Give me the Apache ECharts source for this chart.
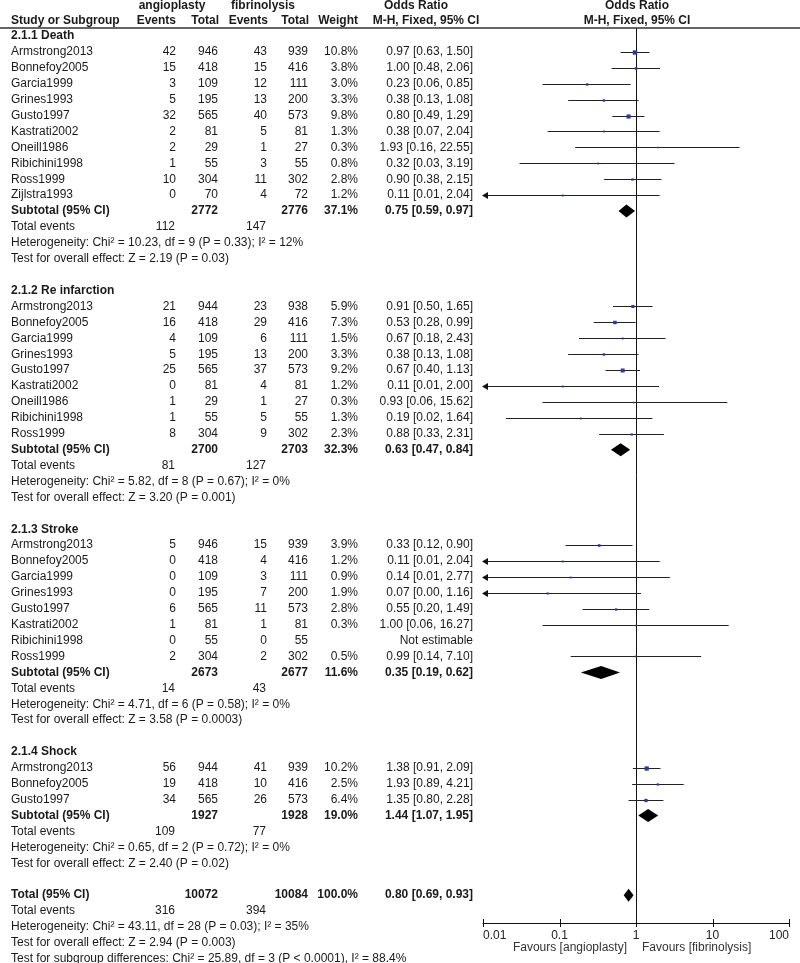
<!DOCTYPE html>
<html><head><meta charset="utf-8">
<script src="https://cdn.jsdelivr.net/npm/echarts@6/dist/echarts.min.js"></script>
<style>html,body{margin:0;padding:0;background:#fff}#c{width:800px;height:963px}</style>
</head><body><div id="c"></div>
<script>
// ---------------- DATA ----------------
const groupTitles = ['2.1.1 Death', '2.1.2 Re infarction', '2.1.3 Stroke', '2.1.4 Shock'];
// [study, angioEvents, angioTotal, fibrEvents, fibrTotal, weight%, OR, lower, upper]
const deathStudies = [
  ['Armstrong2013', 42, 946, 43, 939, 10.8, 0.97, 0.63, 1.50],
  ['Bonnefoy2005', 15, 418, 15, 416, 3.8, 1.00, 0.48, 2.06],
  ['Garcia1999', 3, 109, 12, 111, 3.0, 0.23, 0.06, 0.85],
  ['Grines1993', 5, 195, 13, 200, 3.3, 0.38, 0.13, 1.08],
  ['Gusto1997', 32, 565, 40, 573, 9.8, 0.80, 0.49, 1.29],
  ['Kastrati2002', 2, 81, 5, 81, 1.3, 0.38, 0.07, 2.04],
  ['Oneill1986', 2, 29, 1, 27, 0.3, 1.93, 0.16, 22.55],
  ['Ribichini1998', 1, 55, 3, 55, 0.8, 0.32, 0.03, 3.19],
  ['Ross1999', 10, 304, 11, 302, 2.8, 0.90, 0.38, 2.15],
  ['Zijlstra1993', 0, 70, 4, 72, 1.2, 0.11, 0.01, 2.04]
];
const reinfarctionStudies = [
  ['Armstrong2013', 21, 944, 23, 938, 5.9, 0.91, 0.50, 1.65],
  ['Bonnefoy2005', 16, 418, 29, 416, 7.3, 0.53, 0.28, 0.99],
  ['Garcia1999', 4, 109, 6, 111, 1.5, 0.67, 0.18, 2.43],
  ['Grines1993', 5, 195, 13, 200, 3.3, 0.38, 0.13, 1.08],
  ['Gusto1997', 25, 565, 37, 573, 9.2, 0.67, 0.40, 1.13],
  ['Kastrati2002', 0, 81, 4, 81, 1.2, 0.11, 0.01, 2.00],
  ['Oneill1986', 1, 29, 1, 27, 0.3, 0.93, 0.06, 15.62],
  ['Ribichini1998', 1, 55, 5, 55, 1.3, 0.19, 0.02, 1.64],
  ['Ross1999', 8, 304, 9, 302, 2.3, 0.88, 0.33, 2.31]
];
const strokeStudies = [
  ['Armstrong2013', 5, 946, 15, 939, 3.9, 0.33, 0.12, 0.90],
  ['Bonnefoy2005', 0, 418, 4, 416, 1.2, 0.11, 0.01, 2.04],
  ['Garcia1999', 0, 109, 3, 111, 0.9, 0.14, 0.01, 2.77],
  ['Grines1993', 0, 195, 7, 200, 1.9, 0.07, 0.00, 1.16],
  ['Gusto1997', 6, 565, 11, 573, 2.8, 0.55, 0.20, 1.49],
  ['Kastrati2002', 1, 81, 1, 81, 0.3, 1.00, 0.06, 16.27],
  ['Ribichini1998', 0, 55, 0, 55, null, null, null, null],
  ['Ross1999', 2, 304, 2, 302, 0.5, 0.99, 0.14, 7.10]
];
const shockStudies = [
  ['Armstrong2013', 56, 944, 41, 939, 10.2, 1.38, 0.91, 2.09],
  ['Bonnefoy2005', 19, 418, 10, 416, 2.5, 1.93, 0.89, 4.21],
  ['Gusto1997', 34, 565, 26, 573, 6.4, 1.35, 0.80, 2.28]
];
// [angioTotal, fibrTotal, weight%, OR, lower, upper]
const subtotals = [
  [2772, 2776, 37.1, 0.75, 0.59, 0.97],
  [2700, 2703, 32.3, 0.63, 0.47, 0.84],
  [2673, 2677, 11.6, 0.35, 0.19, 0.62],
  [1927, 1928, 19.0, 1.44, 1.07, 1.95]
];
const subgroupEvents = [[112, 147], [81, 127], [14, 43], [109, 77]];
const heterogeneityTexts = [
  'Heterogeneity: Chi² = 10.23, df = 9 (P = 0.33); I² = 12%',
  'Heterogeneity: Chi² = 5.82, df = 8 (P = 0.67); I² = 0%',
  'Heterogeneity: Chi² = 4.71, df = 6 (P = 0.58); I² = 0%',
  'Heterogeneity: Chi² = 0.65, df = 2 (P = 0.72); I² = 0%'
];
const overallEffectTexts = [
  'Test for overall effect: Z = 2.19 (P = 0.03)',
  'Test for overall effect: Z = 3.20 (P = 0.001)',
  'Test for overall effect: Z = 3.58 (P = 0.0003)',
  'Test for overall effect: Z = 2.40 (P = 0.02)'
];
const totalRow = [10072, 10084, 100.0, 0.80, 0.69, 0.93];
const totalEvents = [316, 394];
const totalTexts = [
  'Heterogeneity: Chi² = 43.11, df = 28 (P = 0.03); I² = 35%',
  'Test for overall effect: Z = 2.94 (P = 0.003)',
  'Test for subgroup differences: Chi² = 25.89, df = 3 (P < 0.0001), I² = 88.4%'
];
const axisTicks = [0.01, 0.1, 1, 10, 100];
const axisTickLabels = ['0.01', '0.1', '1', '10', '100'];

// ---------------- LAYOUT ----------------
const W = 800, H = 963;
const ROW0 = 36, STEP = 15.91;       // pixel of first row, row pitch
const AXIS_Y = 923, PLOT_TOP = 28;
const px2row = p => (p - ROW0) / STEP;
const COL = { name: 11, ae: 176, at: 218, fe: 267, ft: 308, w: 358, or: 473 };
const FONT = '"Liberation Sans", Arial, Helvetica, sans-serif';
const TXT = '#1a1a1a';

const groups = [deathStudies, reinfarctionStudies, strokeStudies, shockStudies];
const texts = [];   // {x,row,text,align,bold,color}
const studyMarks = []; // [or, lo, hi, row, weight]
const diamonds = [];   // [or, lo, hi, row]
const T = (x, row, text, align, bold, extra) => texts.push(Object.assign({ x, row, text: String(text), align: align || 'left', bold: !!bold }, extra || {}));
const orText = (o, l, h) => `${o.toFixed(2)} [${l.toFixed(2)}, ${h.toFixed(2)}]`;

// headers
const hA = px2row(6), hB = px2row(21);
T(172, hA, 'angioplasty', 'center', true);
T(263, hA, 'fibrinolysis', 'center', true);
T(416, hA, 'Odds Ratio', 'center', true);
T(637, hA, 'Odds Ratio', 'center', true);
T(COL.name, hB, 'Study or Subgroup', 'left', true);
T(COL.ae, hB, 'Events', 'right', true);
T(COL.at + 1, hB, 'Total', 'right', true);
T(COL.fe + 1, hB, 'Events', 'right', true);
T(COL.ft + 1, hB, 'Total', 'right', true);
T(COL.w, hB, 'Weight', 'right', true);
T(426, hB, 'M-H, Fixed, 95% CI', 'center', true);
T(637, hB, 'M-H, Fixed, 95% CI', 'center', true);

let r = 0;
groups.forEach((g, gi) => {
  T(COL.name, r, groupTitles[gi], 'left', true); r++;
  g.forEach(s => {
    T(COL.name, r, s[0]);
    T(COL.ae, r, s[1], 'right'); T(COL.at, r, s[2], 'right');
    T(COL.fe, r, s[3], 'right'); T(COL.ft, r, s[4], 'right');
    if (s[6] != null) {
      T(COL.w, r, s[5].toFixed(1) + '%', 'right');
      T(COL.or, r, orText(s[6], s[7], s[8]), 'right');
      studyMarks.push([s[6], s[7], s[8], r, s[5]]);
    } else {
      T(COL.or, r, 'Not estimable', 'right');
    }
    r++;
  });
  const st = subtotals[gi];
  T(COL.name, r, 'Subtotal (95% CI)', 'left', true);
  T(COL.at, r, st[0], 'right', true); T(COL.ft, r, st[1], 'right', true);
  T(COL.w, r, st[2].toFixed(1) + '%', 'right', true);
  T(COL.or, r, orText(st[3], st[4], st[5]), 'right', true);
  diamonds.push([st[3], st[4], st[5], r]); r++;
  T(COL.name, r, 'Total events'); T(COL.ae - 1, r, subgroupEvents[gi][0], 'right'); T(COL.fe - 1, r, subgroupEvents[gi][1], 'right'); r++;
  T(COL.name, r, heterogeneityTexts[gi]); r++;
  T(COL.name, r, overallEffectTexts[gi]); r++;
  r++; // blank
});
T(COL.name, r, 'Total (95% CI)', 'left', true);
T(COL.at, r, totalRow[0], 'right', true); T(COL.ft, r, totalRow[1], 'right', true);
T(COL.w, r, totalRow[2].toFixed(1) + '%', 'right', true);
T(COL.or, r, orText(totalRow[3], totalRow[4], totalRow[5]), 'right', true);
diamonds.push([totalRow[3], totalRow[4], totalRow[5], r]); r++;
T(COL.name, r, 'Total events'); T(COL.ae - 1, r, totalEvents[0], 'right'); T(COL.fe - 1, r, totalEvents[1], 'right'); r++;
totalTexts.forEach(t => { T(COL.name, r, t); r++; });
// axis captions
T(627, px2row(948), 'Favours [angioplasty]', 'right', false, { color: '#333' });
T(642, px2row(948), 'Favours [fibrinolysis]', 'left', false, { color: '#333' });

const AMIN = 0.01, AMAX = 100;
const clampV = v => Math.min(Math.max(v, AMIN), AMAX);
const yMax1 = px2row(AXIS_Y);

function textStyle(it) {
  const font = (it.bold ? 'bold ' : '') + '12px ' + FONT;
  const color = it.color || TXT;
  return { text: it.text, font, fill: color, textFill: color, align: it.align, textAlign: it.align, verticalAlign: 'middle', textVerticalAlign: 'middle' };
}

const chart = echarts.init(document.getElementById('c'), null, { renderer: 'canvas', width: W, height: H });
chart.setOption({
  animation: false,
  backgroundColor: '#fff',
  grid: [
    { left: 0, right: 0, top: 0, bottom: 0 },
    { left: 483, right: W - 789, top: PLOT_TOP, bottom: H - AXIS_Y }
  ],
  xAxis: [
    { gridIndex: 0, type: 'value', min: 0, max: W, show: false },
    {
      gridIndex: 1, type: 'log', logBase: 10, min: AMIN, max: AMAX, position: 'bottom',
      axisLine: { show: true, onZero: false, lineStyle: { color: '#111', width: 1 } },
      axisTick: { show: false },
      splitLine: { show: false },
      axisLabel: {
        show: true, margin: 7, color: '#222', fontSize: 12, fontFamily: FONT,
        alignMinLabel: 'left', alignMaxLabel: 'right',
        formatter: v => { let b = 0; axisTicks.forEach((t, i) => { if (Math.abs(Math.log10(t) - Math.log10(v)) < Math.abs(Math.log10(axisTicks[b]) - Math.log10(v))) b = i; }); return axisTickLabels[b]; }
      }
    }
  ],
  yAxis: [
    { gridIndex: 0, type: 'value', inverse: true, min: px2row(0), max: px2row(H), show: false },
    { gridIndex: 1, type: 'value', inverse: true, min: px2row(PLOT_TOP), max: yMax1, show: false }
  ],
  graphic: [
    { type: 'line', shape: { x1: 0, y1: PLOT_TOP, x2: W, y2: PLOT_TOP }, style: { stroke: '#333', lineWidth: 1.5 }, z: 10 }
  ],
  series: [
    {
      type: 'custom', name: 'texts', coordinateSystem: 'cartesian2d', xAxisIndex: 0, yAxisIndex: 0,
      silent: true, clip: false,
      data: texts.map(t => [t.x, t.row]),
      renderItem: (params, api) => {
        const it = texts[params.dataIndex];
        const p = api.coord([api.value(0), api.value(1)]);
        return { type: 'text', x: p[0], y: p[1], style: textStyle(it) };
      }
    },
    {
      type: 'custom', name: 'studies', coordinateSystem: 'cartesian2d', xAxisIndex: 1, yAxisIndex: 1,
      silent: true, clip: false, z: 5,
      data: studyMarks,
      renderItem: (params, api) => {
        const or = api.value(0), lo = api.value(1), hi = api.value(2), row = api.value(3), w = api.value(4);
        const pl = api.coord([clampV(lo), row]);
        const ph = api.coord([clampV(hi), row]);
        const pc = api.coord([or, row]);
        const y = Math.round(pl[1]) + 0.5;
        const children = [
          { type: 'line', shape: { x1: pl[0], y1: y, x2: ph[0], y2: y }, style: { stroke: '#222', lineWidth: 1 } }
        ];
        if (lo <= AMIN) {
          children.push({ type: 'polygon', shape: { points: [[pl[0] - 1, y], [pl[0] + 5, y - 3.5], [pl[0] + 5, y + 3.5]] }, style: { fill: '#111' } });
        }
        const s = 1.6 + w * 0.26;
        children.push({ type: 'rect', shape: { x: pc[0] - s / 2, y: y - s / 2, width: s, height: s }, style: { fill: '#2c3c96' } });
        return { type: 'group', children };
      }
    },
    {
      type: 'custom', name: 'diamonds', coordinateSystem: 'cartesian2d', xAxisIndex: 1, yAxisIndex: 1,
      silent: true, clip: false, z: 6,
      data: diamonds,
      renderItem: (params, api) => {
        const or = api.value(0), lo = api.value(1), hi = api.value(2), row = api.value(3);
        const pl = api.coord([lo, row]), ph = api.coord([hi, row]), pc = api.coord([or, row]);
        const h = 6.5;
        return { type: 'polygon', shape: { points: [[pl[0], pl[1]], [pc[0], pc[1] - h], [ph[0], ph[1]], [pc[0], pc[1] + h]] }, style: { fill: '#000' } };
      },
      markLine: {
        silent: true, symbol: 'none', label: { show: false },
        lineStyle: { color: '#111', width: 1, type: 'solid' },
        data: [{ xAxis: 1 }]
      }
    },
    {
      type: 'custom', name: 'ticks', coordinateSystem: 'cartesian2d', xAxisIndex: 1, yAxisIndex: 1,
      silent: true, clip: false, z: 6,
      data: axisTicks.map(v => [v, yMax1]),
      renderItem: (params, api) => {
        const p = api.coord([api.value(0), api.value(1)]);
        const x = Math.round(p[0]) + 0.5;
        return { type: 'line', shape: { x1: x, y1: p[1] - 4, x2: x, y2: p[1] + 4 }, style: { stroke: '#111', lineWidth: 1 } };
      }
    }
  ]
});
</script>
</body></html>
